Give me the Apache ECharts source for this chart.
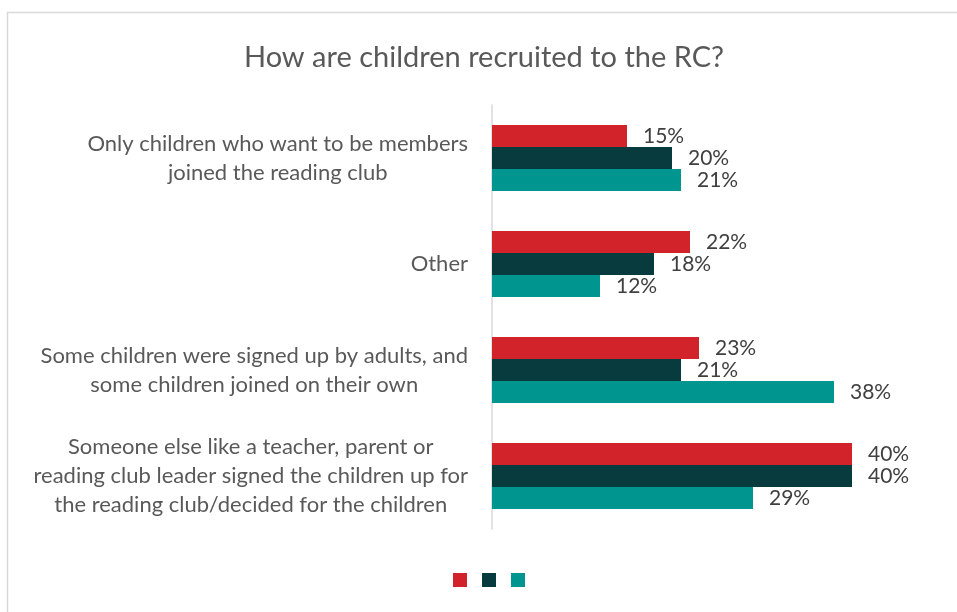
<!DOCTYPE html>
<html><head><meta charset="utf-8">
<script src="https://cdn.jsdelivr.net/npm/echarts@6/dist/echarts.min.js"></script>
<style>html,body{margin:0;padding:0;background:#fff}#c{width:957px;height:612px}</style>
</head><body><div id="c"></div>
<script>
const titleText = 'How are children recruited to the RC?';
const categories = [
  'Only children who want to be members\njoined the reading club',
  'Other',
  'Some children were signed up by adults, and\nsome children joined on their own',
  'Someone else like a teacher, parent or\nreading club leader signed the children up for\nthe reading club/decided for the children'
];
const seriesNames = ['Series 1', 'Series 2', 'Series 3'];
const redValues = [15, 22, 23, 40];
const darkValues = [20, 18, 21, 40];
const tealValues = [21, 12, 38, 29];
const colors = ['#D2232A', '#073B3D', '#00968F'];

const FONT = 'Lato';
const chart = echarts.init(document.getElementById('c'));
const labelText = categories.map(c => c.split('\n').map(l => '{c|' + l + '}').join('\n'));
const dataLabel = {
  show: true, position: 'right', distance: 16,
  fontFamily: FONT, fontSize: 21, color: '#404040',
  formatter: p => p.value + '%'
};
const allValues = [redValues, darkValues, tealValues];
chart.setOption({
  animation: false,
  backgroundColor: '#fff',
  graphic: [{
    type: 'rect', shape: {x: 7.5, y: 12.5, width: 1000, height: 700},
    style: {fill: 'none', stroke: '#d9d9d9', lineWidth: 1.5}, silent: true
  }],
  title: {
    text: titleText, left: 479, top: 38, textAlign: 'center',
    textStyle: {fontFamily: FONT, fontSize: 29, fontWeight: 'normal', color: '#595959'}
  },
  legend: {
    left: 448, top: 568, itemWidth: 14, itemHeight: 14, itemGap: 15,
    icon: 'rect', formatter: () => '', data: seriesNames
  },
  grid: {left: 492, right: 60, top: 105, bottom: 83, containLabel: false},
  xAxis: {type: 'value', min: 0, max: 45, show: false},
  yAxis: {
    type: 'category', data: categories, inverse: true,
    axisLine: {show: true, lineStyle: {color: '#d9d9d9', width: 1.5}},
    axisTick: {show: false},
    axisLabel: {
      margin: 24, align: 'right',
      formatter: (v, i) => labelText[i],
      rich: {c: {align: 'center', fontFamily: FONT, fontSize: 22, color: '#595959', lineHeight: 29}}
    }
  },
  series: seriesNames.map((n, k) => ({
    name: n, type: 'bar', data: allValues[k], barWidth: 22, barGap: '0%',
    itemStyle: {color: colors[k]}, label: dataLabel
  }))
});
</script></body></html>
